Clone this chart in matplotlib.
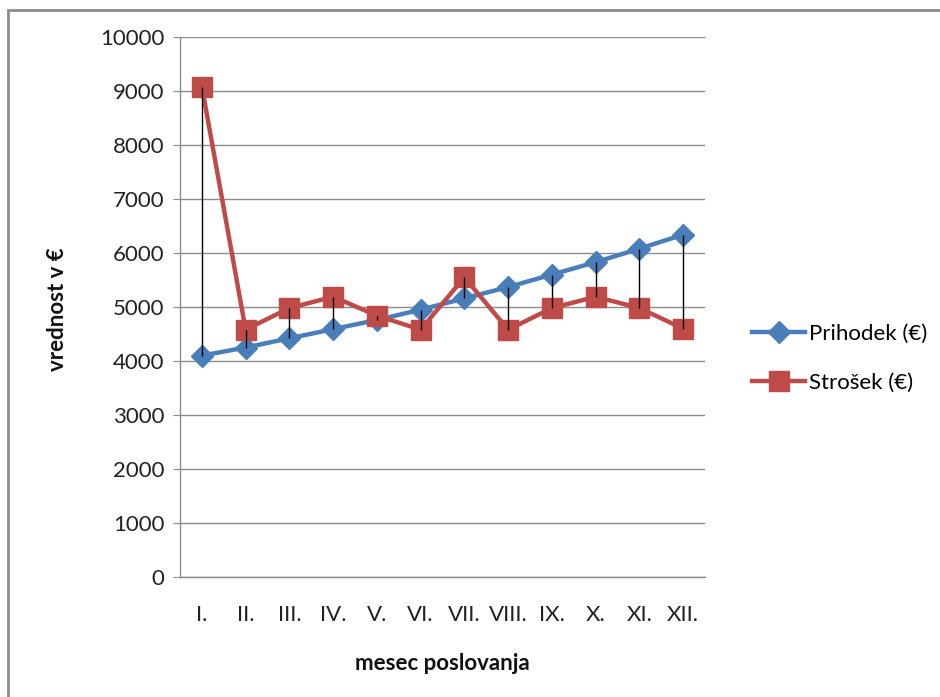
import matplotlib
matplotlib.use("Agg")
import matplotlib.pyplot as plt
from matplotlib.patches import Rectangle

months = ["I.", "II.", "III.", "IV.", "V.", "VI.", "VII.", "VIII.", "IX.", "X.", "XI.", "XII."]
prihodek = [4100, 4250, 4420, 4590, 4760, 4950, 5160, 5370, 5600, 5830, 6080, 6340]
strosek = [9080, 4580, 4980, 5190, 4840, 4580, 5550, 4580, 4980, 5190, 4980, 4600]
yticks = list(range(0, 10001, 1000))

plt.rcParams['font.family'] = ['Lato', 'DejaVu Sans']

W, H = 940, 697
fig = plt.figure(figsize=(W/100, H/100), dpi=100)
fig.patch.set_facecolor('white')

# outer chart border
fig.patches.append(Rectangle((8/W, -0.1), 1.2, 1 - 10/H + 0.1, transform=fig.transFigure,
                             fill=False, edgecolor='#8c8c8c', linewidth=2))

ax = fig.add_axes([180/W, 1 - 577/H, (705-180)/W, (577-37)/H])
x = list(range(len(months)))

ax.vlines(x, [min(a, b) for a, b in zip(prihodek, strosek)],
          [max(a, b) for a, b in zip(prihodek, strosek)], colors='black', linewidth=1, zorder=5)
ax.plot(x, prihodek, color='#4A7EBB', linewidth=3.2, marker='D', markersize=11,
        markerfacecolor='#4A7EBB', markeredgecolor='#4A7EBB', label='Prihodek (€)', zorder=3)
ax.plot(x, strosek, color='#BE4B48', linewidth=3.2, marker='s', markersize=14,
        markerfacecolor='#BE4B48', markeredgecolor='#BE4B48', label='Strošek (€)', zorder=4)

ax.set_xlim(-0.5, 11.5)
ax.set_ylim(0, 10000)
ax.set_yticks(yticks)
ax.set_yticklabels([str(v) for v in yticks])
ax.set_xticks(x)
ax.set_xticklabels(months)
ax.yaxis.grid(True, color='#8c8c8c', linewidth=1)
ax.set_axisbelow(True)
for s in ['top', 'right']:
    ax.spines[s].set_visible(False)
for s in ['left', 'bottom']:
    ax.spines[s].set_color('#8c8c8c')
    ax.spines[s].set_linewidth(1)
ax.tick_params(axis='y', length=5, color='#8c8c8c', labelsize=16, pad=6, labelcolor='#222222')
ax.tick_params(axis='x', length=0, labelsize=16, pad=20, labelcolor='#222222')

fig.text(58/W, 1 - 309/H, 'vrednost v €', rotation=90, ha='center', va='center',
         fontsize=16, fontweight='bold', color='#111111')
fig.text(442/W, 1 - 663/H, 'mesec poslovanja', ha='center', va='center',
         fontsize=16, fontweight='bold', color='#111111')

leg = ax.legend(loc='center left', bbox_to_anchor=(732/W, 1 - 358/H), bbox_transform=fig.transFigure,
                frameon=False, fontsize=16, handlelength=2.4, handletextpad=0.15, labelspacing=1.3)

fig.savefig('out.png', dpi=100, facecolor='white')
